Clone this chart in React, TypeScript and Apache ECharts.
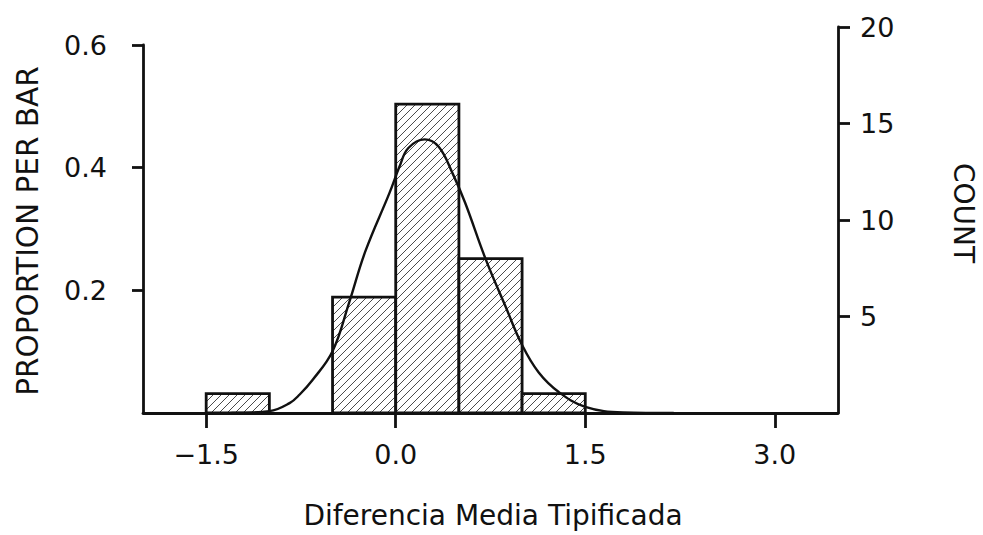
import React, { useEffect, useRef } from "react";
import * as echarts from "echarts";

// Histogram bins (Diferencia Media Tipificada) and counts
const binStart = [-1.5, -0.5, 0.0, 0.5, 1.0];
const binEnd = [-1.0, 0.0, 0.5, 1.0, 1.5];
const counts = [1, 6, 16, 8, 1];

// Fitted normal curve (proportion per bar)
const curveX = [-1.3, -1.0, -0.84, -0.76, -0.66, -0.5, -0.37, -0.24, -0.05, 0.03, 0.1, 0.23, 0.34, 0.45, 0.55, 0.71, 0.87, 1.0, 1.13, 1.29, 1.5, 1.8, 2.2];
const curveP = [0.0, 0.003, 0.016, 0.03, 0.053, 0.1, 0.178, 0.262, 0.356, 0.399, 0.429, 0.443, 0.431, 0.388, 0.34, 0.25, 0.172, 0.11, 0.066, 0.034, 0.01, 0.001, 0.0];

// Axis ticks
const xTicks = [-1.5, 0.0, 1.5, 3.0];
const propTicks = [0.2, 0.4, 0.6];
const countTicks = [5, 10, 15, 20];

const X_MIN = -2.0;
const X_MAX = 3.5;
const COUNT_MAX = 20;
const TOTAL = 32; // sum of counts
const PROP_MAX_DATA = COUNT_MAX / TOTAL;

const FONT = "DejaVu Sans";

export default function App() {
  const ref = useRef<HTMLDivElement>(null);

  useEffect(() => {
    if (!ref.current) return;
    const chart = echarts.init(ref.current, null, { renderer: "svg" });

    const barData = binStart.map((s, i) => [s, binEnd[i], counts[i]]);
    const curveData = curveX.map((x, i) => [x, curveP[i]]);

    const HATCH = 8;

    const renderBar = (params: any, api: any) => {
      const x0 = api.value(0);
      const x1 = api.value(1);
      const c = api.value(2);
      const pTop = api.coord([x0, c]);
      const pBot = api.coord([x1, 0]);
      const rx0 = pTop[0];
      const ry0 = pTop[1];
      const rx1 = pBot[0];
      const ry1 = pBot[1];
      const children: any[] = [
        {
          type: "rect",
          shape: { x: rx0, y: ry0, width: rx1 - rx0, height: ry1 - ry0 },
          style: { fill: "#ffffff", stroke: "none" },
        },
      ];
      const cStart = Math.ceil((rx0 + ry0) / HATCH) * HATCH;
      for (let k = cStart; k <= rx1 + ry1; k += HATCH) {
        const xa = Math.max(rx0, k - ry1);
        const xb = Math.min(rx1, k - ry0);
        if (xb - xa > 0.5) {
          children.push({
            type: "line",
            shape: { x1: xa, y1: k - xa, x2: xb, y2: k - xb },
            style: { stroke: "#4a4a4a", lineWidth: 1 },
          });
        }
      }
      children.push({
        type: "rect",
        shape: { x: rx0, y: ry0, width: rx1 - rx0, height: ry1 - ry0 },
        style: { fill: "none", stroke: "#111", lineWidth: 2.8 },
      });
      return { type: "group", children };
    };

    const axisLine = { show: true, onZero: false, lineStyle: { color: "#111", width: 2.8 } };

    chart.setOption({
      animation: false,
      backgroundColor: "#ffffff",
      textStyle: { fontFamily: FONT, color: "#111" },
      grid: [
        { left: 143, right: 145, top: 27, bottom: 122 },
        { left: 143, right: 145, top: 45, bottom: 122 },
      ],
      xAxis: [
        {
          type: "value",
          gridIndex: 0,
          min: X_MIN,
          max: X_MAX,
          splitLine: { show: false },
          axisLine,
          axisTick: {
            show: true,
            length: 15,
            inside: false,
            customValues: xTicks,
            lineStyle: { color: "#111", width: 2.8 },
          },
          axisLabel: {
            customValues: xTicks,
            margin: 28,
            fontSize: 27,
            fontFamily: FONT,
            color: "#111",
            formatter: (v: number) => (v < 0 ? "\u2212" + Math.abs(v).toFixed(1) : v.toFixed(1)),
          },
        },
        {
          type: "value",
          gridIndex: 1,
          min: X_MIN,
          max: X_MAX,
          show: false,
        },
      ],
      yAxis: [
        {
          type: "value",
          gridIndex: 0,
          position: "right",
          min: 0,
          max: COUNT_MAX,
          splitLine: { show: false },
          axisLine,
          axisTick: {
            show: true,
            length: 12,
            customValues: countTicks,
            lineStyle: { color: "#111", width: 2.8 },
          },
          axisLabel: {
            customValues: countTicks,
            margin: 22,
            fontSize: 27,
            fontFamily: FONT,
            color: "#111",
          },
        },
        {
          type: "value",
          gridIndex: 0,
          min: 0,
          max: PROP_MAX_DATA,
          show: false,
        },
        {
          type: "value",
          gridIndex: 1,
          position: "left",
          min: 0,
          max: 0.6,
          splitLine: { show: false },
          axisLine,
          axisTick: {
            show: true,
            length: 11,
            customValues: propTicks,
            lineStyle: { color: "#111", width: 2.8 },
          },
          axisLabel: {
            customValues: propTicks,
            margin: 36,
            fontSize: 27,
            fontFamily: FONT,
            color: "#111",
            formatter: (v: number) => v.toFixed(1),
          },
        },
      ],
      graphic: [
        {
          type: "text",
          x: 28,
          y: 231,
          rotation: Math.PI / 2,
          style: {
            text: "PROPORTION PER BAR",
            font: `29.5px "${FONT}"`,
            fill: "#111",
            align: "center",
            verticalAlign: "middle",
          },
        },
        {
          type: "text",
          x: 963,
          y: 213,
          rotation: -Math.PI / 2,
          style: {
            text: "COUNT",
            font: `28px "${FONT}"`,
            fill: "#111",
            align: "center",
            verticalAlign: "middle",
          },
        },
        {
          type: "text",
          x: 493,
          y: 515,
          style: {
            text: "Diferencia Media Tipificada",
            font: `28px "${FONT}"`,
            fill: "#111",
            align: "center",
            verticalAlign: "middle",
          },
        },
      ],
      series: [
        {
          type: "custom",
          xAxisIndex: 0,
          yAxisIndex: 0,
          renderItem: renderBar,
          encode: { x: [0, 1], y: 2 },
          data: barData,
          z: 2,
        },
        {
          type: "line",
          xAxisIndex: 0,
          yAxisIndex: 1,
          data: curveData,
          smooth: 0.4,
          showSymbol: false,
          symbol: "none",
          lineStyle: { color: "#111", width: 2.4 },
          z: 3,
        },
      ],
    });

    return () => chart.dispose();
  }, []);

  return (
    <div
      ref={ref}
      style={{ position: "fixed", left: 0, top: 0, width: 983, height: 535, background: "#fff" }}
    />
  );
}
